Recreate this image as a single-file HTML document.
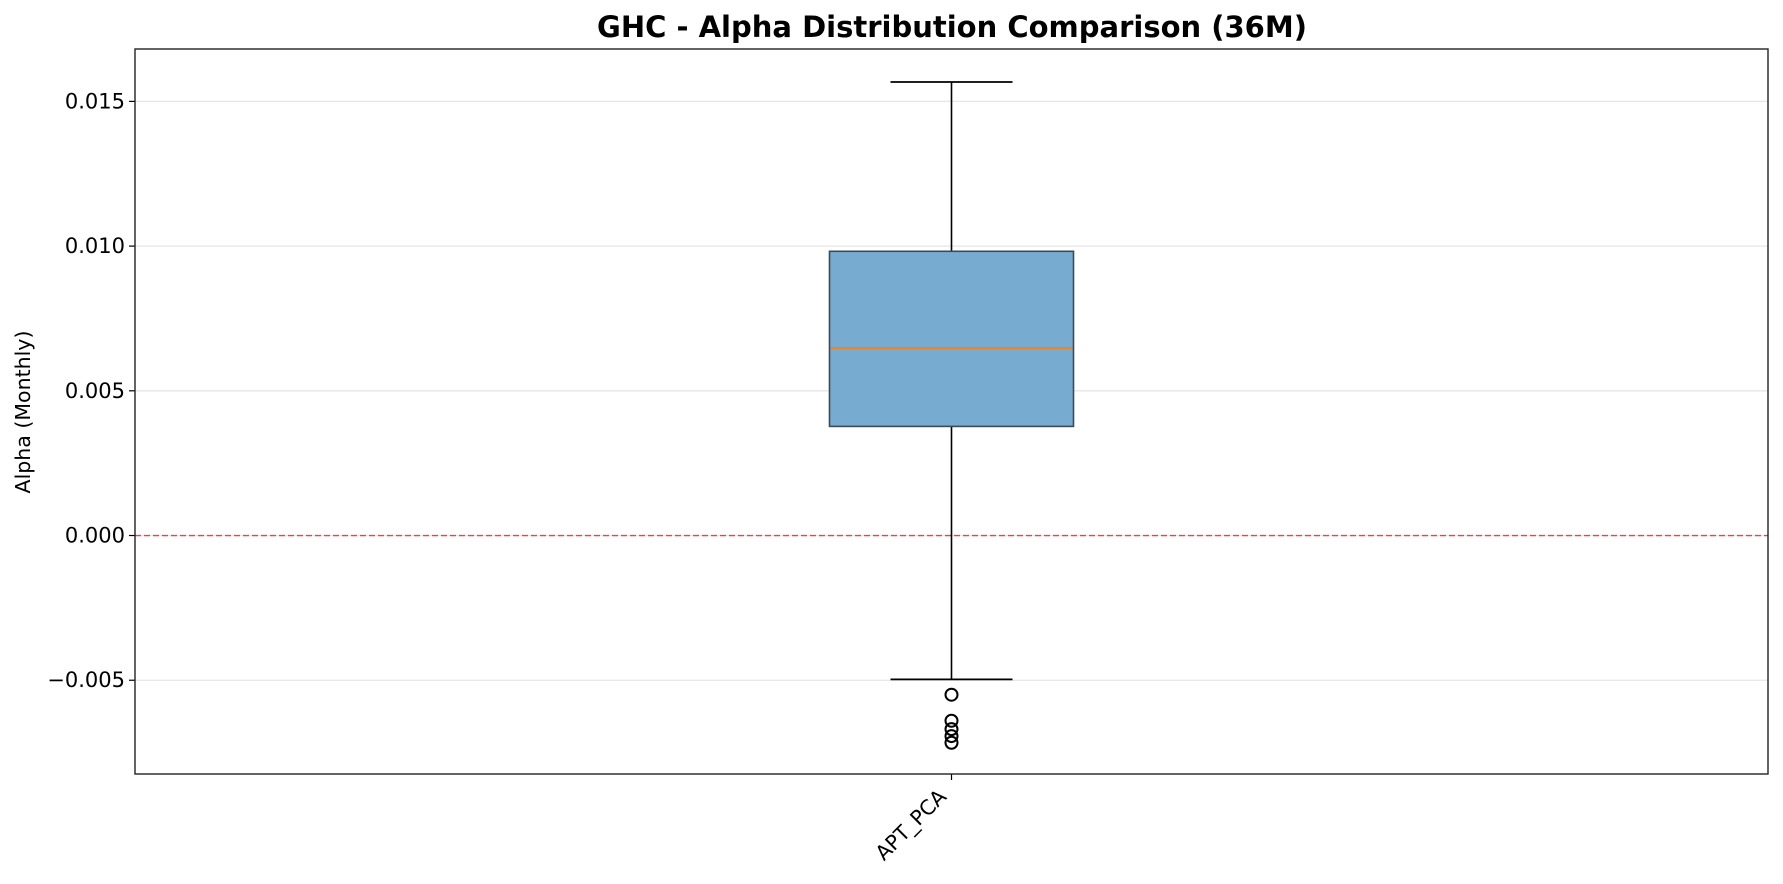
<!DOCTYPE html>
<html><head><meta charset="utf-8"><style>
body{margin:0;background:#fff;font-family:"Liberation Sans","DejaVu Sans",sans-serif;}
svg{display:block}
</style></head><body>
<svg id="chart" width="1783" height="884" viewBox="0 0 1783 884" xmlns="http://www.w3.org/2000/svg">
<text x="952" y="37" text-anchor="middle" font-size="29" font-weight="bold" font-family="DejaVu Sans, Liberation Sans, sans-serif">GHC - Alpha Distribution Comparison (36M)</text>
<text transform="translate(30,412) rotate(-90)" text-anchor="middle" font-size="20.5" font-family="DejaVu Sans, Liberation Sans, sans-serif">Alpha (Monthly)</text>
<g id="grid"></g><g id="marks"></g><g id="axes"></g>
</svg>
<script>
const categories = ["APT_PCA"];
const whiskerLow = [-0.00497];
const q1 = [0.00377];
const median = [0.00648];
const q3 = [0.00982];
const whiskerHigh = [0.01567];
const outliers = [[-0.0055, -0.0064, -0.00669, -0.00693, -0.00716]];
const yTicks = [-0.005, 0, 0.005, 0.01, 0.015];
const yTickLabels = ["\u22120.005", "0.000", "0.005", "0.010", "0.015"];

const NS = "http://www.w3.org/2000/svg";
const L = 135, R = 1768, T = 49, B = 774;
const yMin = -0.00824, yMax = 0.01681;
const y = v => B - (v - yMin) / (yMax - yMin) * (B - T);
const x = i => L + (i + 0.5) * (R - L) / categories.length;
function mk(tag, attrs, parent) { const e = document.createElementNS(NS, tag); for (const k in attrs) e.setAttribute(k, attrs[k]); parent.appendChild(e); return e; }
const grid = document.getElementById('grid'), marks = document.getElementById('marks'), axes = document.getElementById('axes');
yTicks.forEach((t, i) => {
  const g = mk('line', {x1: L, x2: R, y1: y(t), y2: y(t), stroke: '#e6e6e6', 'stroke-width': 1.3}, grid);
  
  
  const tk = mk('line', {x1: L - 6, x2: L, y1: y(t), y2: y(t), stroke: '#000', 'stroke-width': 1.2}, axes);
  
  
  const lb = mk('text', {x: L - 10, y: y(t) + 7, 'text-anchor': 'end', 'font-size': 21, 'font-family': 'DejaVu Sans, Liberation Sans, sans-serif'}, axes);
  lb.textContent = yTickLabels[i];
  
  
});
const zl = mk('line', {x1: L, x2: R, y1: y(0), y2: y(0), stroke: '#f04040', 'stroke-width': 1.4, 'stroke-dasharray': '6,3'}, grid);


const boxW = 244, capW = 122;
categories.forEach((c, i) => {
  const cx = x(i);
  const w1 = mk('line', {x1: cx, x2: cx, y1: y(whiskerHigh[i]), y2: y(q3[i]), stroke: '#000', 'stroke-width': 1.6}, marks);
  
  
  const w2 = mk('line', {x1: cx, x2: cx, y1: y(q1[i]), y2: y(whiskerLow[i]), stroke: '#000', 'stroke-width': 1.6}, marks);
  
  
  const c1 = mk('line', {x1: cx - capW/2, x2: cx + capW/2, y1: y(whiskerHigh[i]), y2: y(whiskerHigh[i]), stroke: '#000', 'stroke-width': 1.8}, marks);
  
  
  const c2 = mk('line', {x1: cx - capW/2, x2: cx + capW/2, y1: y(whiskerLow[i]), y2: y(whiskerLow[i]), stroke: '#000', 'stroke-width': 1.8}, marks);
  
  
  const bx = mk('rect', {x: cx - boxW/2, y: y(q3[i]), width: boxW, height: y(q1[i]) - y(q3[i]), fill: '#77acd0', stroke: '#3c4a58', 'stroke-width': 1.6}, marks);
  
  
  const md = mk('line', {x1: cx - boxW/2 + 1, x2: cx + boxW/2 - 1, y1: y(median[i]), y2: y(median[i]), stroke: '#ff7f0e', 'stroke-width': 1.8}, marks);
  
  
  outliers[i].forEach(o => {
    const p = mk('circle', {cx: cx, cy: y(o), r: 6, fill: 'none', stroke: '#000', 'stroke-width': 2}, marks);
    
    
  });
  const tk = mk('line', {x1: cx, x2: cx, y1: B, y2: B + 6, stroke: '#000', 'stroke-width': 1.2}, axes);
  
  
  const lb = mk('text', {x: cx - 4, y: B + 24, 'text-anchor': 'end', 'font-size': 20.5, 'font-family': 'DejaVu Sans, Liberation Sans, sans-serif', transform: `rotate(-45 ${cx - 4} ${B + 24})`}, axes);
  lb.textContent = c;
  
  
});
const fr = mk('rect', {x: L, y: T, width: R - L, height: B - T, fill: 'none', stroke: '#222', 'stroke-width': 1.4}, axes);


</script>
</body></html>
